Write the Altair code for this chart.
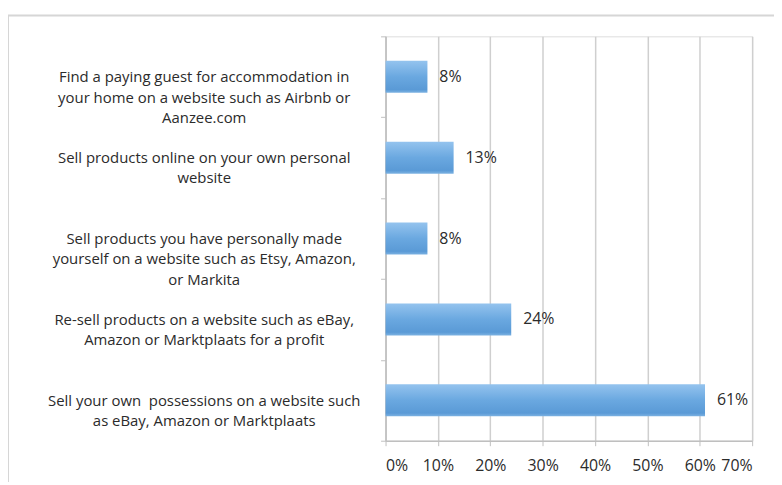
import altair as alt
import pandas as pd

categories = [
    "Find a paying guest for accommodation in|your home on a website such as Airbnb or|Aanzee.com",
    "Sell products online on your own personal|website",
    "Sell products you have personally made|yourself on a website such as Etsy, Amazon,|or Markita",
    "Re-sell products on a website such as eBay,|Amazon or Marktplaats for a profit",
    "Sell your own\u00a0 possessions on a website such|as eBay, Amazon or Marktplaats",
]
values = [8, 13, 8, 24, 61]
x_ticks = [0, 10, 20, 30, 40, 50, 60, 70]

df = pd.DataFrame({"cat": categories, "val": values})

FONT = "Open Sans"
TXT = "#2b2b2b"

y_enc = alt.Y(
    "cat:N",
    sort=categories,
    scale=alt.Scale(paddingInner=0, paddingOuter=0),
    axis=alt.Axis(
        title=None,
        labelExpr="split(datum.label, '|')",
        labelAlign="center",
        labelBaseline="middle",
        labelPadding=178,
        labelLineHeight=20.5,
        labelFont=FONT,
        labelFontSize=15,
        labelColor=TXT,
        labelLimit=400,
        tickBand="extent",
        tickSize=5,
        tickColor="#bfbfbf",
        domainColor="#bfbfbf",
        domainWidth=1.5,
        grid=False,
    ),
)

x_enc = alt.X(
    "val:Q",
    scale=alt.Scale(domain=[0, 70], nice=False),
    axis=alt.Axis(
        title=None,
        values=x_ticks,
        labelExpr="datum.value + '%'",
        labelFont=FONT,
        labelFontSize=16,
        labelColor=TXT,
        labelPadding=12,
        tickSize=5,
        tickColor="#bfbfbf",
        domainColor="#bfbfbf",
        domainWidth=1.5,
        grid=True,
        gridColor="#cfcfcf",
        gridWidth=1.5,
    ),
)

grad = alt.Gradient(
    gradient="linear",
    stops=[
        alt.GradientStop(color="#94c3ee", offset=0),
        alt.GradientStop(color="#6aa8e0", offset=0.5),
        alt.GradientStop(color="#5a9ad6", offset=0.9),
        alt.GradientStop(color="#7cb2e2", offset=1),
    ],
    x1=0, x2=0, y1=0, y2=1,
)

bars = alt.Chart(df).mark_bar(fill=grad, height=alt.RelativeBandSize(0.395)).encode(x=x_enc, y=y_enc)

labels = alt.Chart(df).mark_text(
    align="left", baseline="middle", dx=12, font=FONT, fontSize=16, color=TXT
).encode(
    x="val:Q",
    y=alt.Y("cat:N", sort=categories),
    text=alt.Text("label:N"),
).transform_calculate(label="datum.val + '%'")

frame = alt.Chart(pd.DataFrame({"a": [0]})).mark_rect(
    fill=None, stroke="#d6d6d6", strokeWidth=2
).encode(
    x=alt.value(-380), x2=alt.value(600), y=alt.value(-21), y2=alt.value(600)
)

chart = alt.layer(frame, bars, labels).properties(
    width=369,
    height=407,
    autosize=alt.AutoSizeParams(type="none"),
    padding={"left": 380, "top": 27, "right": 22, "bottom": 40},
).configure_view(stroke=None).configure(background="white")

chart.save("out.html", embed_options={"renderer": "svg", "actions": False})
